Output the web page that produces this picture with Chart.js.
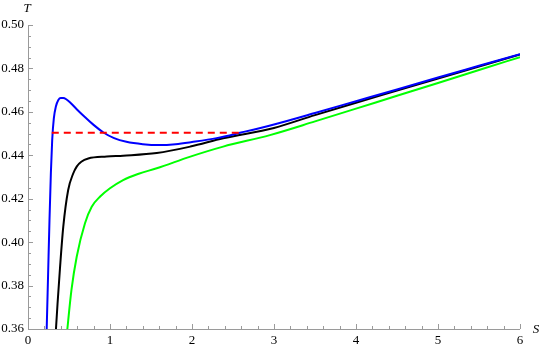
<!DOCTYPE html>
<html>
<head>
<meta charset="utf-8">
<script src="https://cdn.jsdelivr.net/npm/chart.js@4"></script>
<style>
  body { margin: 0; background: #fff; }
  canvas { display: block; }
</style>
</head>
<body>
<canvas id="grafico" width="542" height="350"></canvas>
<script>
// Curvas T(S)
const sAzul = [0.214, 0.228, 0.245, 0.262, 0.279, 0.295, 0.315, 0.34, 0.37, 0.40, 0.43, 0.47, 0.52, 0.6, 0.7, 0.8, 0.92, 1.05, 1.2, 1.4, 1.6, 1.8, 2.0, 2.3, 2.6, 3.0, 3.5, 4, 4.5, 5, 5.5, 6];
const tAzul = [0.340, 0.360, 0.385, 0.410, 0.432, 0.447, 0.457, 0.4625, 0.4655, 0.4664, 0.4664, 0.4657, 0.4641, 0.4610, 0.4574, 0.4540, 0.4505, 0.4479, 0.4462, 0.4451, 0.4447, 0.4451, 0.4461, 0.4479, 0.4505, 0.4542, 0.4595, 0.4649, 0.4703, 0.4758, 0.4812, 0.4866];

const sNegra = [0.325, 0.341, 0.36, 0.39, 0.43, 0.49, 0.55, 0.594, 0.65, 0.735, 0.96, 1.16, 1.57, 1.98, 2.38, 3.0, 3.5, 4, 4.5, 5, 5.5, 6];
const tNegra = [0.350, 0.360, 0.3715, 0.3880, 0.4070, 0.4240, 0.4315, 0.4348, 0.4370, 0.4385, 0.4394, 0.4398, 0.4410, 0.4440, 0.4478, 0.4526, 0.4585, 0.4642, 0.4698, 0.4754, 0.4809, 0.4864];

const sVerde = [0.462, 0.48, 0.53, 0.594, 0.695, 0.777, 0.88, 1.0, 1.16, 1.35, 1.57, 1.98, 2.38, 2.95, 3.5, 4, 4.5, 5, 5.5, 6];
const tVerde = [0.353, 0.360, 0.378, 0.3933, 0.4087, 0.4163, 0.4210, 0.4248, 0.4286, 0.4315, 0.4340, 0.4394, 0.4440, 0.4493, 0.4556, 0.4615, 0.4674, 0.4733, 0.4793, 0.4852];

// Recta de áreas iguales (discontinua)
const sRoja = [0.29, 2.59];
const tRoja = [0.4504, 0.4504];

// Marcas de los ejes
const ticksX = [0, 1, 2, 3, 4, 5, 6];
const ticksY = [0.36, 0.38, 0.40, 0.42, 0.44, 0.46, 0.48, 0.50];

const FUENTE = '"Liberation Serif", "Times New Roman", Times, serif';

const puntos = (xs, ys) => xs.map((x, i) => ({ x, y: ys[i] }));

function serie(xs, ys, color, extra) {
  return Object.assign({
    data: puntos(xs, ys),
    borderColor: color,
    borderWidth: 2,
    pointRadius: 0,
    fill: false,
    cubicInterpolationMode: "monotone",
    clip: 0
  }, extra || {});
}

// Ejes estilo Mathematica: marcas hacia dentro, menores incluidas
const ejesPlugin = {
  id: "ejesMma",
  beforeDatasetsDraw(chart) {
    const { ctx, scales: { x, y } } = chart;
    const x0 = x.getPixelForValue(0);
    const y0 = y.getPixelForValue(0.36);
    ctx.save();
    ctx.strokeStyle = "#9a9a9a";
    ctx.lineWidth = 1;
    ctx.beginPath();
    ctx.moveTo(x0, y0 + 0.5);
    ctx.lineTo(x.getPixelForValue(6), y0 + 0.5);
    ctx.moveTo(x0 + 0.5, y0);
    ctx.lineTo(x0 + 0.5, y.getPixelForValue(0.50));
    for (let i = 0; i <= 30; i++) {
      const px = Math.round(x.getPixelForValue(i * 0.2)) + 0.5;
      const largo = i % 5 === 0 ? 5 : 3;
      ctx.moveTo(px, y0);
      ctx.lineTo(px, y0 - largo);
    }
    for (let i = 0; i <= 28; i++) {
      const py = Math.round(y.getPixelForValue(0.36 + i * 0.005)) + 0.5;
      const largo = i % 4 === 0 ? 5 : 3;
      ctx.moveTo(x0, py);
      ctx.lineTo(x0 + largo, py);
    }
    ctx.stroke();

    ctx.fillStyle = "#000";
    ctx.font = "13px " + FUENTE;
    ctx.textAlign = "center";
    ctx.textBaseline = "middle";
    ticksX.forEach(v => ctx.fillText(String(v), x.getPixelForValue(v), y0 + 12));
    ctx.textAlign = "right";
    ticksY.forEach(v => ctx.fillText(v.toFixed(2), x0 - 4, y.getPixelForValue(v)));

    ctx.font = "italic 13px " + FUENTE;
    ctx.textAlign = "center";
    ctx.fillText("T", x0 - 1, 9);
    ctx.fillText("S", 536, y0 + 1);
    ctx.restore();
  }
};

function dibujar() {
  new Chart(document.getElementById("grafico"), {
    type: "line",
    data: {
      datasets: [
        serie(sRoja, tRoja, "#ff0000", { borderDash: [7, 5], cubicInterpolationMode: "default", tension: 0 }),
        serie(sAzul, tAzul, "#0000ff"),
        serie(sNegra, tNegra, "#000000"),
        serie(sVerde, tVerde, "#00ff00")
      ]
    },
    options: {
      responsive: false,
      animation: false,
      layout: { padding: { left: 28, right: 22, top: 25, bottom: 21 } },
      plugins: { legend: { display: false }, tooltip: { enabled: false } },
      scales: {
        x: { type: "linear", min: 0, max: 6, display: false },
        y: { type: "linear", min: 0.36, max: 0.50, display: false }
      }
    },
    plugins: [ejesPlugin]
  });
}

Promise.all([
  document.fonts.load("13px " + FUENTE),
  document.fonts.load("italic 13px " + FUENTE)
]).then(dibujar, dibujar);
</script>
</body>
</html>
